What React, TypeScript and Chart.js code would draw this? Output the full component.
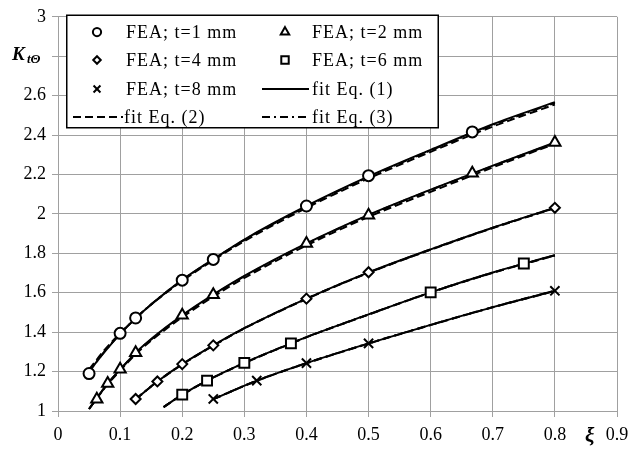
import React, { useEffect, useRef } from 'react';
import { Chart, registerables } from 'chart.js';
Chart.register(...registerables);

const FONT = "'Liberation Serif', 'Times New Roman', serif";
const GRID = '#a0a0a0';

// FEA points (xi, K)
const feaX1 = [0.05, 0.1, 0.125, 0.2, 0.25, 0.4, 0.5, 0.667];
const feaY1 = [1.19, 1.394, 1.472, 1.664, 1.769, 2.04, 2.194, 2.416];
const feaX2 = [0.0625, 0.08, 0.1, 0.125, 0.2, 0.25, 0.4, 0.5, 0.667, 0.8];
const feaY2 = [1.06, 1.14, 1.212, 1.296, 1.486, 1.59, 1.85, 1.993, 2.206, 2.362];
const feaX4 = [0.125, 0.16, 0.2, 0.25, 0.4, 0.5, 0.8];
const feaY4 = [1.061, 1.15, 1.238, 1.333, 1.57, 1.704, 2.031];
const feaX6 = [0.2, 0.24, 0.3, 0.375, 0.6, 0.75];
const feaY6 = [1.083, 1.154, 1.244, 1.343, 1.602, 1.748];
const feaX8 = [0.25, 0.32, 0.4, 0.5, 0.8];
const feaY8 = [1.061, 1.154, 1.243, 1.343, 1.61];

// fit curves sampled (xi)
const fitX1 = [0.05, 0.075, 0.1, 0.125, 0.15, 0.2, 0.25, 0.3, 0.4, 0.5, 0.6, 0.7, 0.8];
const fitX2 = [0.05, 0.0625, 0.08, 0.1, 0.125, 0.15, 0.2, 0.25, 0.3, 0.4, 0.5, 0.6, 0.7, 0.8];
const fitX4 = [0.125, 0.16, 0.2, 0.25, 0.3, 0.4, 0.5, 0.6, 0.7, 0.8];
const fitX6 = [0.17, 0.2, 0.24, 0.3, 0.375, 0.4, 0.5, 0.6, 0.7, 0.8];
const fitX8 = [0.25, 0.32, 0.4, 0.5, 0.6, 0.7, 0.8];

// fit Eq. (1)
const eq1Y1 = [1.2, 1.3, 1.39, 1.47, 1.54, 1.665, 1.77, 1.87, 2.04, 2.19, 2.325, 2.455, 2.567];
const eq1Y2 = [1.01, 1.065, 1.14, 1.21, 1.295, 1.365, 1.485, 1.59, 1.685, 1.85, 1.995, 2.123, 2.245, 2.362];
const eq1Y4 = [1.06, 1.15, 1.238, 1.333, 1.42, 1.57, 1.703, 1.82, 1.93, 2.031];
const eq1Y6 = [1.02, 1.083, 1.154, 1.244, 1.343, 1.375, 1.49, 1.602, 1.703, 1.79];
const eq1Y8 = [1.06, 1.154, 1.243, 1.343, 1.437, 1.527, 1.61];

// fit Eq. (2)
const eq2Y1 = [1.21, 1.31, 1.395, 1.47, 1.54, 1.66, 1.765, 1.862, 2.03, 2.18, 2.315, 2.443, 2.555];
const eq2Y2 = [1.01, 1.065, 1.135, 1.205, 1.288, 1.357, 1.476, 1.58, 1.675, 1.84, 1.985, 2.112, 2.236, 2.356];
const eq2Y4 = [1.06, 1.148, 1.236, 1.331, 1.419, 1.568, 1.701, 1.818, 1.928, 2.029];
const eq2Y6 = [1.02, 1.082, 1.153, 1.243, 1.342, 1.374, 1.489, 1.601, 1.701, 1.789];
const eq2Y8 = [1.06, 1.153, 1.242, 1.342, 1.436, 1.526, 1.609];

// fit Eq. (3)
const eq3Y1 = [1.2, 1.302, 1.392, 1.471, 1.541, 1.664, 1.769, 1.868, 2.037, 2.187, 2.322, 2.451, 2.563];
const eq3Y2 = [1.01, 1.064, 1.139, 1.209, 1.294, 1.363, 1.483, 1.588, 1.683, 1.848, 1.993, 2.121, 2.243, 2.36];
const eq3Y4 = [1.06, 1.15, 1.237, 1.332, 1.42, 1.57, 1.702, 1.82, 1.93, 2.03];
const eq3Y6 = [1.02, 1.083, 1.154, 1.244, 1.343, 1.375, 1.49, 1.602, 1.702, 1.79];
const eq3Y8 = [1.06, 1.154, 1.243, 1.343, 1.437, 1.527, 1.61];

const feaLabels = ['FEA; t=1 mm', 'FEA; t=2 mm', 'FEA; t=4 mm', 'FEA; t=6 mm', 'FEA; t=8 mm'];
const fitLabels = ['fit Eq. (1)', 'fit Eq. (2)', 'fit Eq. (3)'];
const markerStyles = ['circle', 'triangle', 'rectRot', 'rect', 'crossRot'];
const markerRadii = [5.5, 6.5, 5, 7, 6.5];

const pts = (xs: number[], ys: number[]) => xs.map((x, i) => ({ x, y: ys[i] }));

function drawMarker(ctx: CanvasRenderingContext2D, style: string, x: number, y: number, r: number) {
  ctx.beginPath();
  if (style === 'circle') {
    ctx.arc(x, y, r, 0, Math.PI * 2);
  } else if (style === 'triangle') {
    for (let k = 0; k < 3; k++) {
      const a = (k * 2 * Math.PI) / 3;
      const px = x + Math.sin(a) * r;
      const py = y - Math.cos(a) * r;
      if (k === 0) ctx.moveTo(px, py); else ctx.lineTo(px, py);
    }
    ctx.closePath();
  } else if (style === 'rectRot') {
    ctx.moveTo(x - r, y); ctx.lineTo(x, y - r); ctx.lineTo(x + r, y); ctx.lineTo(x, y + r);
    ctx.closePath();
  } else if (style === 'rect') {
    const s = r * Math.SQRT1_2;
    ctx.rect(x - s, y - s, 2 * s, 2 * s);
  } else if (style === 'crossRot') {
    const s = r * Math.SQRT1_2;
    ctx.moveTo(x - s, y - s); ctx.lineTo(x + s, y + s);
    ctx.moveTo(x + s, y - s); ctx.lineTo(x - s, y + s);
    ctx.stroke();
    return;
  }
  ctx.fillStyle = '#fff';
  ctx.fill();
  ctx.stroke();
}

const overlayPlugin = {
  id: 'overlay',
  afterDraw(chart: any) {
    const ctx: CanvasRenderingContext2D = chart.ctx;
    ctx.save();
    // legend box
    ctx.fillStyle = '#fff';
    ctx.fillRect(67, 15, 371, 113);
    ctx.strokeStyle = '#000';
    ctx.lineWidth = 1.5;
    ctx.strokeRect(66.75, 15.25, 371.5, 112.5);

    const rowsY = [32, 60, 89, 117];
    const colMarker = [97, 285];
    const colText = [126, 312];
    const colLineText = [124, 312];
    const lineSpan = [[73, 123], [262, 309]];
    const entries: any[] = [];
    feaLabels.forEach((l, i) => entries.push({ label: l, kind: 'm', style: markerStyles[i], r: markerRadii[i] * 0.75 }));
    fitLabels.forEach((l, i) => entries.push({ label: l, kind: 'l', dash: i === 0 ? [] : i === 1 ? [8, 4] : [8, 4, 2, 4] }));

    ctx.font = `18px ${FONT}`;
    (ctx as any).letterSpacing = '1px';
    ctx.textBaseline = 'middle';
    ctx.textAlign = 'left';
    entries.forEach((e, i) => {
      const col = i % 2;
      const row = Math.floor(i / 2);
      const y = rowsY[row];
      ctx.strokeStyle = '#000';
      if (e.kind === 'm') {
        ctx.lineWidth = 2;
        ctx.setLineDash([]);
        drawMarker(ctx, e.style, colMarker[col], y, e.r);
        ctx.fillStyle = '#000';
        ctx.fillText(e.label, colText[col], y + 1);
      } else {
        ctx.lineWidth = 2;
        ctx.setLineDash(e.dash);
        ctx.beginPath();
        ctx.moveTo(lineSpan[col][0], y);
        ctx.lineTo(lineSpan[col][1], y);
        ctx.stroke();
        ctx.setLineDash([]);
        ctx.fillStyle = '#000';
        ctx.fillText(e.label, colLineText[col], y + 1);
      }
    });
    (ctx as any).letterSpacing = '0px';

    // axis titles
    ctx.fillStyle = '#000';
    ctx.textBaseline = 'alphabetic';
    ctx.font = `bold italic 19px ${FONT}`;
    ctx.fillText('K', 12, 60);
    ctx.font = `bold italic 13px ${FONT}`;
    ctx.fillText('tΘ', 27, 63);
    ctx.font = `bold italic 21px ${FONT}`;
    ctx.fillText('ξ', 585, 442);
    ctx.restore();
  },
};

export default function App() {
  const ref = useRef<HTMLCanvasElement | null>(null);
  useEffect(() => {
    if (!ref.current) return;
    const feaX = [feaX1, feaX2, feaX4, feaX6, feaX8];
    const feaY = [feaY1, feaY2, feaY4, feaY6, feaY8];
    const fitX = [fitX1, fitX2, fitX4, fitX6, fitX8];
    const eqY = [
      [eq1Y1, eq1Y2, eq1Y4, eq1Y6, eq1Y8],
      [eq2Y1, eq2Y2, eq2Y4, eq2Y6, eq2Y8],
      [eq3Y1, eq3Y2, eq3Y4, eq3Y6, eq3Y8],
    ];
    const dashes = [[], [8, 4], [8, 4, 2, 4]];
    const datasets: any[] = [];
    eqY.forEach((set, e) => {
      set.forEach((ys, k) => {
        datasets.push({
          label: fitLabels[e],
          data: pts(fitX[k], ys),
          showLine: true,
          borderColor: '#000',
          borderWidth: 2,
          borderDash: dashes[e],
          pointRadius: 0,
          cubicInterpolationMode: 'monotone',
          fill: false,
          order: 3 - e,
        });
      });
    });
    feaX.forEach((xs, k) => {
      datasets.push({
        label: feaLabels[k],
        data: pts(xs, feaY[k]),
        showLine: false,
        pointStyle: markerStyles[k],
        pointRadius: markerRadii[k],
        pointBorderWidth: 2,
        pointBackgroundColor: '#fff',
        pointBorderColor: '#000',
        borderColor: '#000',
        backgroundColor: '#fff',
        order: 0,
      });
    });
    const chart = new Chart(ref.current, {
      type: 'scatter',
      data: { datasets },
      plugins: [overlayPlugin],
      options: {
        animation: false,
        responsive: true,
        maintainAspectRatio: false,
        devicePixelRatio: 1,
        layout: { padding: { left: 0, top: 13, right: 26, bottom: 0 } },
        plugins: { legend: { display: false }, tooltip: { enabled: false } },
        scales: {
          x: {
            type: 'linear',
            min: 0,
            max: 0.9,
            afterFit: (s: any) => { s.height = 43; },
            ticks: {
              stepSize: 0.1,
              color: '#000',
              padding: 7,
              maxRotation: 0,
              font: { family: FONT, size: 18 },
              callback: (v: any) => String(Number(Number(v).toFixed(1))),
            },
            grid: { color: GRID, lineWidth: 1, tickLength: 6, tickColor: GRID, drawTicks: true },
            border: { color: GRID, width: 1 },
          },
          y: {
            type: 'linear',
            min: 1,
            max: 3,
            afterFit: (s: any) => { s.width = 58; },
            ticks: {
              stepSize: 0.2,
              color: '#000',
              padding: 6,
              font: { family: FONT, size: 18 },
              callback: (v: any) => {
                const n = Number(Number(v).toFixed(1));
                return Math.abs(n - 2.8) < 1e-6 ? '' : String(n);
              },
            },
            grid: { color: GRID, lineWidth: 1, tickLength: 6, tickColor: GRID, drawTicks: true },
            border: { color: GRID, width: 1 },
          },
        },
      },
    });
    return () => chart.destroy();
  }, []);
  return (
    <div style={{ position: 'fixed', left: 0, top: 0, width: 643, height: 454, background: '#fff' }}>
      <canvas ref={ref} />
    </div>
  );
}
